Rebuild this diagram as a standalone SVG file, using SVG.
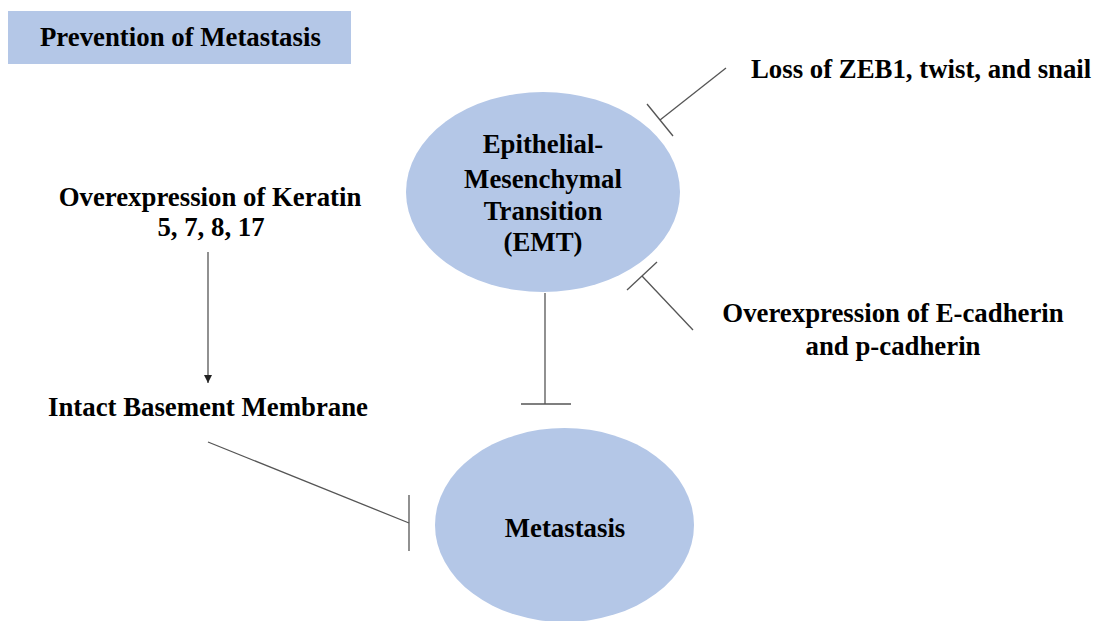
<svg xmlns="http://www.w3.org/2000/svg" width="1097" height="621" viewBox="0 0 1097 621">
<style>
.lbl{font-family:"Liberation Serif","Times New Roman",serif;font-weight:bold;font-size:26.8px;fill:#000;}
.mid{text-anchor:middle;}
.node{fill:#b4c7e7;}
.ln{stroke:#555;stroke-width:1.3;fill:none;}
</style>
<defs>
<marker id="arr" viewBox="0 0 10 10" refX="10" refY="5" markerWidth="8" markerHeight="8" markerUnits="userSpaceOnUse" orient="auto">
<path d="M0,0 L10,5 L0,10 z" fill="#222"/>
</marker>
</defs>
<rect width="1097" height="621" fill="#fff"/>
<g id="title">
<rect x="8" y="11" width="343" height="53" class="node"/>
<text x="40" y="46" class="lbl">Prevention of Metastasis</text>
</g>
<g id="emt">
<ellipse cx="543" cy="192" rx="137" ry="100" class="node"/>
<text x="543" y="153" class="lbl mid">Epithelial-</text>
<text x="543" y="188" class="lbl mid">Mesenchymal</text>
<text x="543" y="220" class="lbl mid">Transition</text>
<text x="543" y="251" class="lbl mid">(EMT)</text>
</g>
<g id="metastasis">
<ellipse cx="564.5" cy="525" rx="129.5" ry="97" class="node"/>
<text x="565" y="537" class="lbl mid">Metastasis</text>
</g>
<g id="zeb1">
<text x="751" y="78" class="lbl">Loss of ZEB1, twist, and snail</text>
</g>
<g id="keratin">
<text x="210" y="206" class="lbl mid">Overexpression of Keratin</text>
<text x="211" y="236" class="lbl mid">5, 7, 8, 17</text>
</g>
<g id="membrane">
<text x="208" y="416" class="lbl mid">Intact Basement Membrane</text>
</g>
<g id="cadherin">
<text x="893" y="322" class="lbl mid">Overexpression of E-cadherin</text>
<text x="893" y="355" class="lbl mid">and p-cadherin</text>
</g>
<g id="connectors">
<line x1="208" y1="252" x2="208" y2="383" class="ln" marker-end="url(#arr)"/>
<line x1="545" y1="293" x2="545" y2="404" class="ln"/>
<line x1="521" y1="404" x2="571" y2="404" class="ln"/>
<line x1="208" y1="442" x2="409" y2="523" class="ln"/>
<line x1="409" y1="495" x2="409" y2="551" class="ln"/>
<line x1="726" y1="68" x2="660" y2="120" class="ln"/>
<line x1="647" y1="104" x2="673" y2="136" class="ln"/>
<line x1="693" y1="330" x2="642" y2="276" class="ln"/>
<line x1="627" y1="290" x2="657" y2="262" class="ln"/>
</g>
</svg>
